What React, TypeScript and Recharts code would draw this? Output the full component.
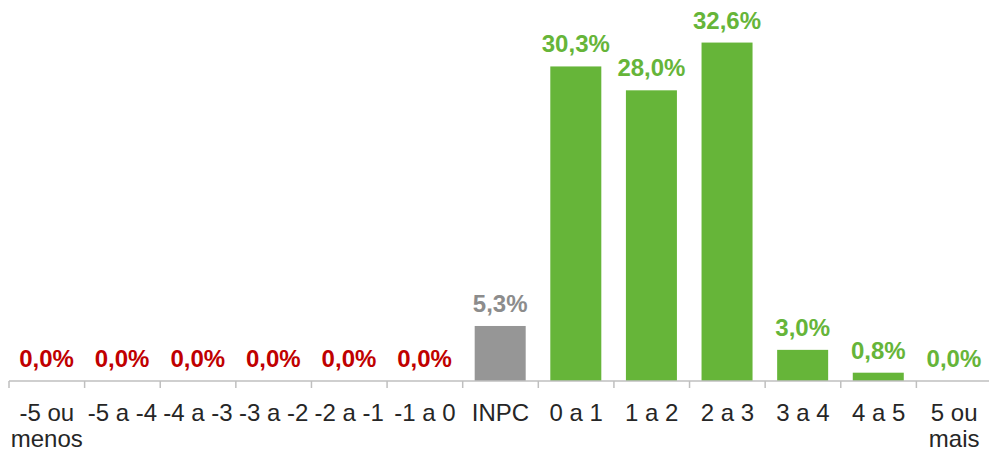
import React from 'react';
import { BarChart, Bar, XAxis, YAxis } from 'recharts';

const categories = ['-5 ou\nmenos', '-5 a -4', '-4 a -3', '-3 a -2', '-2 a -1', '-1 a 0', 'INPC', '0 a 1', '1 a 2', '2 a 3', '3 a 4', '4 a 5', '5 ou\nmais'];
const values = [0, 0, 0, 0, 0, 0, 5.3, 30.3, 28.0, 32.6, 3.0, 0.8, 0];
const groups = ['neg', 'neg', 'neg', 'neg', 'neg', 'neg', 'inpc', 'pos', 'pos', 'pos', 'pos', 'pos', 'pos'];

const BAR_COLORS: Record<string, string> = { neg: '#C00000', inpc: '#969696', pos: '#66B539' };
const LABEL_COLORS: Record<string, string> = { neg: '#C00000', inpc: '#8C8C8C', pos: '#66B539' };

const data = categories.map((name, i) => ({ name, value: values[i], group: groups[i] }));

const WIDTH = 1000;
const MARGIN = { top: 0, right: 8, left: 9, bottom: 0 };
const BAND = (WIDTH - MARGIN.left - MARGIN.right) / categories.length;
const FONT = 'Arial, "Liberation Sans", sans-serif';

const CategoryTick = (props: any) => {
  const { x, y, payload, index } = props;
  const lines = String(payload.value).split('\n');
  const left = x - BAND / 2;
  const top = y - 8;
  return (
    <g>
      <line x1={left} x2={left} y1={top} y2={top + 7} stroke="#BFBFBF" strokeWidth={1.5} />
      {index === categories.length - 1 && (
        <line x1={left + BAND} x2={left + BAND} y1={top} y2={top + 7} stroke="#BFBFBF" strokeWidth={1.5} />
      )}
      {lines.map((l, i) => (
        <text key={i} x={x} y={top + 40 + i * 26} textAnchor="middle" fill="#262626" fontSize={24} fontFamily={FONT}>
          {l}
        </text>
      ))}
    </g>
  );
};

// bar rectangle plus its value label
const BarWithLabel = (props: any) => {
  const { x, y, width, height, payload } = props;
  const g = payload.group;
  return (
    <g>
      {height > 0 && <rect x={x} y={y} width={width} height={height} fill={BAR_COLORS[g]} />}
      <text x={x + width / 2} y={y - 14} textAnchor="middle" fill={LABEL_COLORS[g]} fontSize={24} fontWeight="bold" fontFamily={FONT}>
        {payload.value.toFixed(1).replace('.', ',') + '%'}
      </text>
    </g>
  );
};

export default function App() {
  return (
    <div style={{ position: 'absolute', left: 0, top: 0, width: 989, height: 451, overflow: 'hidden', background: '#fff' }}>
      <BarChart width={WIDTH} height={451} data={data} margin={MARGIN}>
        <XAxis
          dataKey="name"
          interval={0}
          tickLine={false}
          axisLine={{ stroke: '#BFBFBF', strokeWidth: 1.5 }}
          tick={<CategoryTick />}
          height={70}
        />
        <YAxis hide domain={[0, 36.7]} />
        <Bar dataKey="value" barSize={51} isAnimationActive={false} shape={<BarWithLabel />} />
      </BarChart>
    </div>
  );
}
